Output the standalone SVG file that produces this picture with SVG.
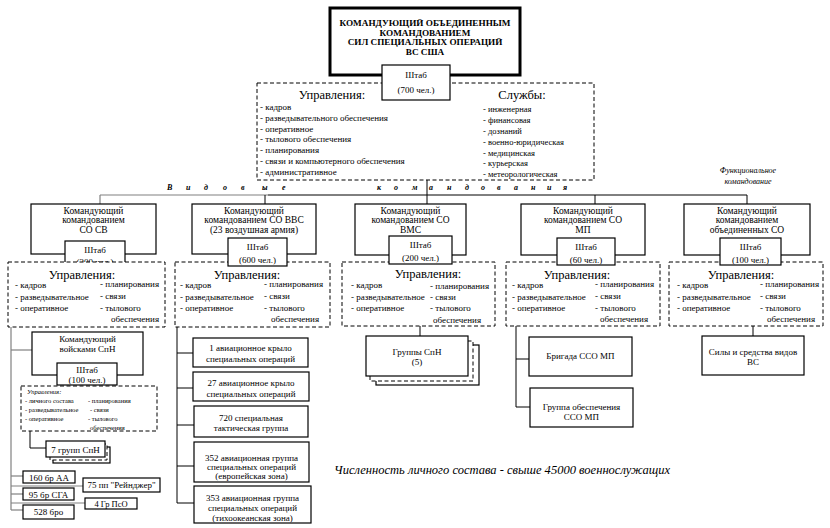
<svg xmlns="http://www.w3.org/2000/svg" width="830" height="528" viewBox="0 0 830 528">
<style>
text{font-family:"Liberation Serif","Times New Roman",serif;fill:#000}
.box{fill:#fff;stroke:#000;stroke-width:1.2}
.dash{fill:#fff;stroke:#000;stroke-width:1;stroke-dasharray:4,2.5}
.ln{fill:none;stroke:#000;stroke-width:1}
.gl{fill:none;stroke:#808080;stroke-width:1.2}
.c{text-anchor:middle}
.t10{font-size:9.5px}
.t9{font-size:9px}
.t8{font-size:8.5px}
.h{font-size:12.5px}
.it{font-style:italic}
.sm{font-size:6.5px}
.ttl{font-size:9.2px;font-weight:bold}
</style>
<rect width="830" height="528" fill="#fff"/>

<g id="connectors">
  <line class="ln" x1="427" y1="180" x2="427" y2="204"/>
  <line class="gl" x1="100" y1="195" x2="268" y2="195"/>
  <line class="ln" x1="268" y1="195" x2="747" y2="195"/>
  <line class="gl" x1="100" y1="195" x2="100" y2="204"/>
  <line class="ln" x1="265" y1="195" x2="265" y2="204"/>
  <line class="ln" x1="595" y1="195" x2="595" y2="204"/>
  <line class="ln" x1="747" y1="195" x2="747" y2="204"/>
  <line class="gl" x1="11" y1="327" x2="11" y2="510"/>
  <line class="gl" x1="11" y1="350" x2="32" y2="350"/>
  <polyline class="ln" points="30,431 30,448 46,448"/>
  <line class="gl" x1="11" y1="476" x2="23" y2="476"/>
  <line class="gl" x1="11" y1="486" x2="83" y2="486"/>
  <line class="gl" x1="11" y1="494" x2="23" y2="494"/>
  <line class="gl" x1="11" y1="503" x2="85" y2="503"/>
  <line class="gl" x1="11" y1="510" x2="23" y2="510"/>
  <line class="ln" x1="177" y1="327" x2="177" y2="503"/>
  <line class="ln" x1="177" y1="353" x2="193" y2="353"/>
  <line class="ln" x1="177" y1="388" x2="193" y2="388"/>
  <line class="ln" x1="177" y1="425" x2="194" y2="425"/>
  <line class="ln" x1="177" y1="466" x2="194" y2="466"/>
  <line class="ln" x1="177" y1="503" x2="194" y2="503"/>
  <line class="ln" x1="420" y1="326" x2="420" y2="336"/>
  <line class="ln" x1="516" y1="326" x2="516" y2="407"/>
  <line class="ln" x1="516" y1="359" x2="530" y2="359"/>
  <line class="ln" x1="516" y1="407" x2="530" y2="407"/>
  <line class="ln" x1="753" y1="326" x2="753" y2="336"/>
</g>

<g id="hq">
  <rect x="330" y="8" width="190" height="67" fill="#fff" stroke="#000" stroke-width="3"/>
  <text class="c ttl" x="425" y="26">КОМАНДУЮЩИЙ ОБЪЕДИНЕННЫМ</text>
  <text class="c ttl" x="425" y="35.5">КОМАНДОВАНИЕМ</text>
  <text class="c ttl" x="425" y="45">СИЛ СПЕЦИАЛЬНЫХ ОПЕРАЦИЙ</text>
  <text class="c ttl" x="425" y="54.5">ВС США</text>
</g>
<g id="hq-directorates">
  <rect class="dash" x="257" y="83" width="337" height="97"/>
  <text class="c h" x="332" y="99">Управления:</text>
  <text class="t9" x="260" y="110">- кадров</text>
  <text class="t9" x="260" y="121">- разведывательного обеспечения</text>
  <text class="t9" x="260" y="131.5">- оперативное</text>
  <text class="t9" x="260" y="142">- тылового обеспечения</text>
  <text class="t9" x="260" y="153">- планирования</text>
  <text class="t9" x="260" y="164">- связи и компьютерного обеспечения</text>
  <text class="t9" x="260" y="175">- административное</text>
  <text class="c h" x="522" y="99">Службы:</text>
  <text class="t8" x="483" y="112">- инженерная</text>
  <text class="t8" x="483" y="123">- финансовая</text>
  <text class="t8" x="483" y="134">- дознаний</text>
  <text class="t8" x="483" y="145">- военно-юридическая</text>
  <text class="t8" x="483" y="156">- медицинская</text>
  <text class="t8" x="483" y="166">- курьерская</text>
  <text class="t8" x="483" y="177">- метеорологическая</text>
</g>
<g id="hq-staff">
  <rect class="box" x="382" y="65" width="68" height="35"/>
  <text class="c t9" x="416" y="78">Штаб</text>
  <text class="c t9" x="416" y="93">(700 чел.)</text>
</g>

<text class="it" font-size="8" font-weight="bold" x="167 186 204 223 241 262 282" y="190">Видовые</text>
<text class="it" font-size="8" font-weight="bold" x="377 394 412 429 447 465 481 497 514 531 547 563" y="190">командования</text>
<text class="c it" font-size="8" x="748" y="173">Функциональное</text>
<text class="c it" font-size="8" x="748" y="184">командование</text>

<g id="cmd-sv">
  <rect class="box" x="31" y="204" width="125" height="50"/>
  <text class="c t10" x="93.5" y="213.5">Командующий</text>
  <text class="c t10" x="93.5" y="223">командованием</text>
  <text class="c t10" x="93.5" y="232.5">СО СВ</text>
  <rect class="box" x="65" y="241" width="60" height="30"/>
  <text class="c t9" x="95" y="252.5">Штаб</text>
  <text class="c t9" x="95" y="265">(300 чел.)</text>
</g>
<g id="dir-sv">
  <rect class="dash" x="8" y="262" width="157" height="65"/>
  <text class="c h" x="82" y="278.5">Управления:</text>
  <text class="t9" x="15" y="288">- кадров</text>
  <text class="t9" x="15" y="299.5">- разведывательное</text>
  <text class="t9" x="15" y="310.5">- оперативное</text>
  <text class="t9" x="100" y="287">- планирования</text>
  <text class="t9" x="100" y="298.5">- связи</text>
  <text class="t9" x="100" y="310.5">- тылового</text>
  <text class="t9" x="111" y="322">обеспечения</text>
</g>

<g id="cmd-vvs">
  <rect class="box" x="192" y="204" width="124" height="50"/>
  <text class="c t10" x="254" y="213.5">Командующий</text>
  <text class="c t10" x="254" y="223">командованием СО ВВС</text>
  <text class="c t10" x="254" y="232.5">(23 воздушная армия)</text>
</g>
<g id="dir-vvs">
  <rect class="dash" x="175" y="262" width="155" height="65"/>
  <text class="c h" x="247" y="278.5">Управления:</text>
  <text class="t9" x="180" y="288">- кадров</text>
  <text class="t9" x="180" y="299.5">- разведывательное</text>
  <text class="t9" x="180" y="310.5">- оперативное</text>
  <text class="t9" x="264" y="287">- планирования</text>
  <text class="t9" x="264" y="298.5">- связи</text>
  <text class="t9" x="264" y="310.5">- тылового</text>
  <text class="t9" x="271" y="322">обеспечения</text>
</g>
<g id="staff-vvs">
  <rect class="box" x="228" y="238" width="59" height="28"/>
  <text class="c t9" x="257.5" y="250">Штаб</text>
  <text class="c t9" x="257.5" y="263">(600 чел.)</text>
</g>

<g id="cmd-vms">
  <rect class="box" x="355" y="204" width="111" height="51"/>
  <text class="c t10" x="410.5" y="213.5">Командующий</text>
  <text class="c t10" x="410.5" y="223">командованием СО</text>
  <text class="c t10" x="410.5" y="232.5">ВМС</text>
</g>
<g id="dir-vms">
  <rect class="dash" x="342" y="262" width="153" height="64"/>
  <text class="c h" x="428" y="277.5">Управления:</text>
  <text class="t9" x="351" y="288">- кадров</text>
  <text class="t9" x="351" y="299.5">- разведывательное</text>
  <text class="t9" x="351" y="310.5">- оперативное</text>
  <text class="t9" x="430" y="288.5">- планирования</text>
  <text class="t9" x="430" y="299.5">- связи</text>
  <text class="t9" x="430" y="311">- тылового</text>
  <text class="t9" x="433" y="322.5">обеспечения</text>
</g>
<g id="staff-vms">
  <rect class="box" x="389" y="236" width="63" height="28"/>
  <text class="c t9" x="420.5" y="248">Штаб</text>
  <text class="c t9" x="420.5" y="261">(200 чел.)</text>
</g>

<g id="cmd-mp">
  <rect class="box" x="521" y="204" width="124" height="51"/>
  <text class="c t10" x="583" y="213.5">Командующий</text>
  <text class="c t10" x="583" y="223">командованием СО</text>
  <text class="c t10" x="583" y="232.5">МП</text>
</g>
<g id="dir-mp">
  <rect class="dash" x="506" y="262" width="154" height="64"/>
  <text class="c h" x="577" y="278.5">Управления:</text>
  <text class="t9" x="512" y="288">- кадров</text>
  <text class="t9" x="512" y="299.5">- разведывательное</text>
  <text class="t9" x="512" y="310.5">- оперативное</text>
  <text class="t9" x="595" y="287">- планирования</text>
  <text class="t9" x="595" y="298.5">- связи</text>
  <text class="t9" x="595" y="310.5">- тылового</text>
  <text class="t9" x="600" y="322">обеспечения</text>
</g>
<g id="staff-mp">
  <rect class="box" x="557" y="238" width="58" height="27"/>
  <text class="c t9" x="586" y="250">Штаб</text>
  <text class="c t9" x="586" y="263">(60 чел.)</text>
</g>

<g id="cmd-jso">
  <rect class="box" x="684" y="204" width="126" height="51"/>
  <text class="c t10" x="747" y="213.5">Командующий</text>
  <text class="c t10" x="747" y="223">командованием</text>
  <text class="c t10" x="747" y="232.5">объединенных СО</text>
</g>
<g id="dir-jso">
  <rect class="dash" x="669" y="262" width="154" height="64"/>
  <text class="c h" x="741" y="278.5">Управления:</text>
  <text class="t9" x="677" y="288">- кадров</text>
  <text class="t9" x="677" y="299.5">- разведывательное</text>
  <text class="t9" x="677" y="310.5">- оперативное</text>
  <text class="t9" x="760" y="287">- планирования</text>
  <text class="t9" x="760" y="298.5">- связи</text>
  <text class="t9" x="760" y="310.5">- тылового</text>
  <text class="t9" x="767" y="322">обеспечения</text>
</g>
<g id="staff-jso">
  <rect class="box" x="720" y="238" width="61" height="27"/>
  <text class="c t9" x="750.5" y="250">Штаб</text>
  <text class="c t9" x="750.5" y="263">(100 чел.)</text>
</g>

<g id="cmd-spn">
  <rect class="box" x="32" y="332" width="111" height="43"/>
  <text class="c t9" x="87.5" y="342">Командующий</text>
  <text class="c t9" x="87.5" y="352">войсками СпН</text>
  <rect class="box" x="57" y="363" width="60" height="22"/>
  <text class="c t9" x="87" y="372.5">Штаб</text>
  <text class="c t9" x="87" y="382.5">(100 чел.)</text>
</g>
<g id="dir-spn">
  <rect class="dash" x="21" y="386" width="136" height="45"/>
  <text class="it sm" x="27" y="394">Управления:</text>
  <text class="sm" x="25" y="403">- личного состава</text>
  <text class="sm" x="25" y="412">- разведывательное</text>
  <text class="sm" x="25" y="421">- оперативное</text>
  <text class="sm" x="88" y="403">- планирования</text>
  <text class="sm" x="90" y="412">- связи</text>
  <text class="sm" x="88" y="421">- тылового</text>
  <text class="sm" x="90" y="430">обеспечения</text>
</g>
<g id="groups-7">
  <rect class="box" x="53" y="447" width="57" height="16"/>
  <rect class="dash" x="50" y="444" width="57" height="16"/>
  <rect class="box" x="46" y="441" width="59" height="16"/>
  <text class="c t9" x="75.5" y="452.5">7 групп СпН</text>
</g>
<g id="br160">
  <rect class="box" x="23" y="471" width="52" height="12"/>
  <text class="c t9" x="49" y="480.5">160 бр АА</text>
</g>
<g id="rangers">
  <rect class="box" x="83" y="478" width="77" height="14"/>
  <text class="c t9" x="121.5" y="488">75 пп "Рейнджер"</text>
</g>
<g id="br95">
  <rect class="box" x="23" y="488" width="51" height="12"/>
  <text class="c t9" x="48.5" y="497.5">95 бр СГА</text>
</g>
<g id="pso4">
  <rect class="box" x="85" y="498" width="52" height="11"/>
  <text class="c" font-size="8.5" x="111" y="506.5">4 Гр ПсО</text>
</g>
<g id="bro528">
  <rect class="box" x="23" y="505" width="51" height="14"/>
  <text class="c t9" x="48.5" y="515">528 бро</text>
</g>

<g id="wing1">
  <rect class="box" x="193" y="338" width="115" height="29"/>
  <text class="c t9" x="250.5" y="351">1 авиационное крыло</text>
  <text class="c t9" x="250.5" y="362">специальных операций</text>
</g>
<g id="wing27">
  <rect class="box" x="193" y="372" width="116" height="29"/>
  <text class="c t9" x="251" y="385.5">27 авиационное крыло</text>
  <text class="c t9" x="251" y="396.5">специальных операций</text>
</g>
<g id="stg720">
  <rect class="box" x="194" y="406" width="114" height="31"/>
  <text class="c t9" x="251" y="421">720 специальная</text>
  <text class="c t9" x="251" y="431">тактическая группа</text>
</g>
<g id="sog352">
  <rect class="box" x="194" y="442" width="115" height="40"/>
  <text class="c t9" x="251.5" y="461">352 авиационная группа</text>
  <text class="c t9" x="251.5" y="470">специальных операций</text>
  <text class="c t9" x="251.5" y="479">(европейская зона)</text>
</g>
<g id="sog353">
  <rect class="box" x="194" y="486" width="117" height="37"/>
  <text class="c t9" x="252.5" y="501">353 авиационная группа</text>
  <text class="c t9" x="252.5" y="511">специальных операций</text>
  <text class="c t9" x="252.5" y="521">(тихоокеанская зона)</text>
</g>

<g id="groups-vms">
  <rect class="box" x="376" y="345" width="103" height="40"/>
  <rect class="dash" x="370" y="341" width="103" height="40"/>
  <rect class="box" x="366" y="336" width="102" height="40"/>
  <text class="c t9" x="417" y="355">Группы СпН</text>
  <text class="c t9" x="417" y="365">(5)</text>
</g>

<g id="brigade-mp">
  <rect class="box" x="529" y="337" width="103" height="39"/>
  <text class="c t9" x="580.5" y="359">Бригада ССО МП</text>
</g>
<g id="support-mp">
  <rect class="box" x="530" y="388" width="103" height="39"/>
  <text class="c t9" x="581.5" y="410">Группа обеспечения</text>
  <text class="c t9" x="581.5" y="420">ССО МП</text>
</g>

<g id="forces-jso">
  <rect class="box" x="702" y="336" width="102" height="39"/>
  <text class="c t9" x="753" y="355">Силы и средства видов</text>
  <text class="c t9" x="753" y="365">ВС</text>
</g>

<text class="it" font-size="12.5" x="334" y="474" textLength="336" lengthAdjust="spacingAndGlyphs">Численность личного состава - свыше 45000 военнослужащих</text>
</svg>
